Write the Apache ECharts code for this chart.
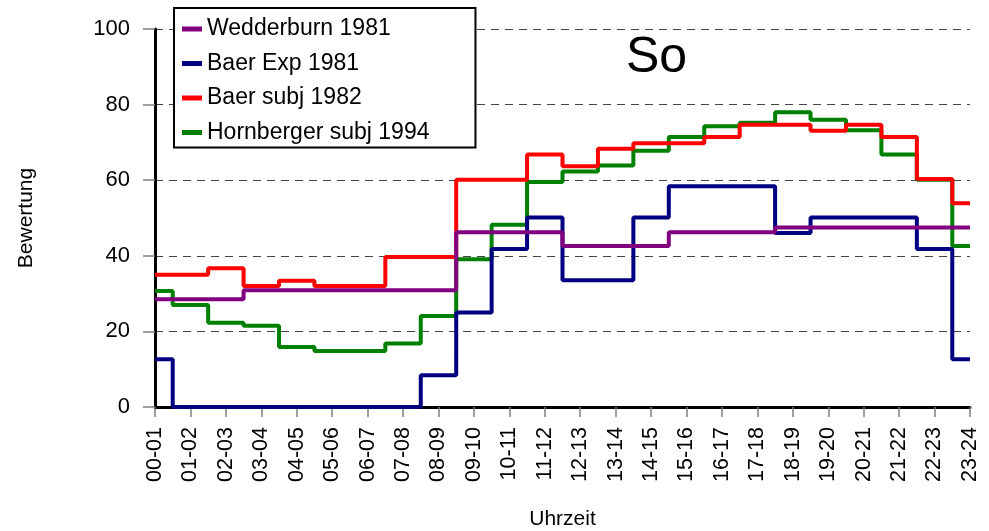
<!DOCTYPE html>
<html>
<head>
<meta charset="utf-8">
<script src="https://cdn.jsdelivr.net/npm/echarts@6/dist/echarts.min.js"></script>
<style>html,body{margin:0;padding:0;background:#fff}#c{width:989px;height:531px}</style>
</head>
<body>
<div id="c"></div>
<script>
const categories = ['00-01','01-02','02-03','03-04','04-05','05-06','06-07','07-08','08-09','09-10','10-11','11-12','12-13','13-14','14-15','15-16','16-17','17-18','18-19','19-20','20-21','21-22','22-23','23-24'];
const wedderburn1981 = [28.5,28.5,28.5,30.9,30.9,30.9,30.9,30.9,30.9,46.2,46.2,46.2,42.6,42.6,42.6,46.2,46.2,46.2,47.5,47.5,47.5,47.5,47.5,47.5];
const baerExp1981 = [12.6,0,0,0,0,0,0,0,8.4,25,41.8,50.1,33.5,33.5,50.1,58.4,58.4,58.4,46,50.1,50.1,50.1,41.8,12.6];
const baerSubj1982 = [35,35,36.7,32,33.4,32,32,39.7,39.7,60.1,60.1,66.8,63.7,68.3,69.8,69.8,71.4,74.7,74.7,73.1,74.7,71.4,60.3,53.9];
const hornbergerSubj1994 = [30.7,27,22.3,21.5,15.9,14.8,14.8,16.8,24.1,39.1,48.2,59.5,62.3,63.9,67.8,71.4,74.3,75.2,78,76,73.2,66.8,60.1,42.6];
const yTicks = [0,20,40,60,80,100];

const FONT = '"Liberation Sans", Arial, sans-serif';
const chart = echarts.init(document.getElementById('c'), null, {renderer:'canvas'});
function ser(name, data, color, z){
  return {name, type:'line', data, step:'middle', symbol:'none', z,
    lineStyle:{color, width:4}, itemStyle:{color}, animation:false};
}
chart.setOption({
  animation:false,
  textStyle:{fontFamily:FONT},
  title:{text:'So', left:621, top:28, textStyle:{fontFamily:FONT, fontSize:50, fontWeight:'normal', color:'#000'}},
  grid:{left:155, right:19, top:29, bottom:124, containLabel:false, outerBoundsMode:'none'},
  legend:{
    orient:'vertical', left:174, top:8, icon:'rect', itemWidth:20, itemHeight:5,
    itemGap:10.5, padding:[9,46,3,8], borderColor:'#000', borderWidth:2, backgroundColor:'#fff',
    textStyle:{fontFamily:FONT, fontSize:23, color:'#000', lineHeight:24},
    data:['Wedderburn 1981','Baer Exp 1981','Baer subj 1982','Hornberger subj 1994']
  },
  xAxis:{
    type:'category', data:categories, boundaryGap:false,
    name:'Uhrzeit', nameLocation:'middle', nameGap:102,
    nameTextStyle:{fontFamily:FONT, fontSize:21, color:'#000'},
    axisLine:{lineStyle:{color:'#000', width:3}},
    axisTick:{show:true, length:10, lineStyle:{color:'#808080', width:1.5}},
    axisLabel:{rotate:90, interval:0, margin:20, fontFamily:FONT, fontSize:21.5, color:'#000'},
    splitLine:{show:false}
  },
  yAxis:{
    type:'value', min:yTicks[0], max:yTicks[yTicks.length-1], interval:20,
    name:'Bewertung', nameLocation:'middle', nameGap:118,
    nameTextStyle:{fontFamily:FONT, fontSize:21, color:'#000'},
    axisLine:{show:true, lineStyle:{color:'#000', width:3}},
    axisTick:{show:true, length:12, lineStyle:{color:'#808080', width:1.5}},
    axisLabel:{margin:25, fontFamily:FONT, fontSize:22, color:'#000'},
    splitLine:{show:true, lineStyle:{color:'#444', width:1, type:[8,6]}}
  },
  series:[
    ser('Hornberger subj 1994', hornbergerSubj1994, '#008000', 2),
    ser('Baer Exp 1981', baerExp1981, '#000080', 3),
    ser('Baer subj 1982', baerSubj1982, '#ff0000', 4),
    ser('Wedderburn 1981', wedderburn1981, '#800080', 5)
  ]
});
</script>
</body>
</html>
